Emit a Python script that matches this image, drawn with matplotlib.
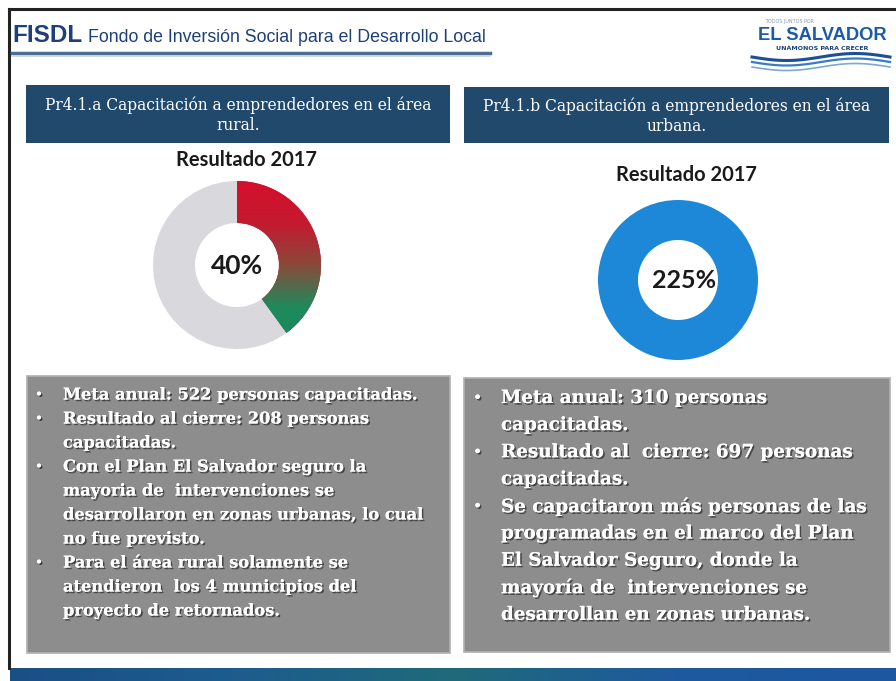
import numpy as np
import matplotlib
matplotlib.use("Agg")
import matplotlib.pyplot as plt
from matplotlib.patches import Rectangle
from matplotlib.colors import LinearSegmentedColormap
import matplotlib.patheffects as pe

# ---------------- data ----------------
panel_titles = ["Pr4.1.a Capacitación a emprendedores en el área\nrural.",
                "Pr4.1.b Capacitación a emprendedores en el área\nurbana."]
result_label = "Resultado 2017"
percent_values = [40, 225]
meta_anual = [522, 310]
resultado_cierre = [208, 697]

left_lines = [
    ("•", "Meta anual: 522 personas capacitadas."),
    ("•", "Resultado al cierre: 208 personas"),
    ("", "capacitadas."),
    ("•", "Con el Plan El Salvador seguro la"),
    ("", "mayoria de  intervenciones se"),
    ("", "desarrollaron en zonas urbanas, lo cual"),
    ("", "no fue previsto."),
    ("•", "Para el área rural solamente se"),
    ("", "atendieron  los 4 municipios del"),
    ("", "proyecto de retornados."),
]
right_lines = [
    ("•", "Meta anual: 310 personas"),
    ("", "capacitadas."),
    ("•", "Resultado al  cierre: 697 personas"),
    ("", "capacitadas."),
    ("•", "Se capacitaron más personas de las"),
    ("", "programadas en el marco del Plan"),
    ("", "El Salvador Seguro, donde la"),
    ("", "mayoría de  intervenciones se"),
    ("", "desarrollan en zonas urbanas."),
]

W, H = 896, 681
fig = plt.figure(figsize=(W / 100, H / 100), dpi=100)
fig.patch.set_facecolor("white")
bg = fig.add_axes([0, 0, 1, 1])
bg.set_xlim(0, W)
bg.set_ylim(H, 0)
bg.axis("off")

navy = "#1d3f7a"
hdr_blue = "#21496b"
box_gray = "#8d8d8d"

# slide border
bg.plot([9, W], [9, 9], color="#222222", lw=2.2)
bg.plot([9, 9], [9, 668], color="#222222", lw=2.2)

# header
bg.text(12, 36, "FISDL", fontsize=17.5, color=navy, fontweight="bold",
        family="Liberation Sans", va="center", ha="left")
bg.text(88, 38, "Fondo de Inversión Social para el Desarrollo Local", fontsize=12.8,
        color=navy, family="Liberation Sans", va="center", ha="left")
bg.plot([12, 490], [53, 53], color="#4a6f8f", lw=2.5)
bg.plot([12, 490], [56, 56], color="#c9d3dc", lw=1.2)

# logo
bg.text(790, 21, "TODOS JUNTOS POR", fontsize=3.5, color="#8899aa", ha="center", va="center")
bg.text(822, 35, "EL SALVADOR", fontsize=13.2, color="#1b5aa8", fontweight="bold",
        family="Liberation Sans", ha="center", va="center")
bg.text(822, 48, "UNÁMONOS PARA CRECER", fontsize=4.5, color="#1b3f7a", fontweight="bold",
        ha="center", va="center")
wx = np.linspace(752, 890, 60)
for off, lw, c in [(0, 2.2, "#1b4f9a"), (5, 1.6, "#3a7cc4"), (10, 1.2, "#7aa8d8")]:
    bg.plot(wx, 57 + off + 3.5 * np.sin((wx - 752) / 138 * 2 * np.pi), color=c, lw=lw)

# panel header boxes
hdr_boxes = [(26, 85, 424, 58), (464, 87, 425, 56)]
for (x, y, w, h), title in zip(hdr_boxes, panel_titles):
    bg.add_patch(Rectangle((x, y), w, h, facecolor=hdr_blue, edgecolor="none"))
    bg.text(x + w / 2, y + h / 2 + 1, title, fontsize=11.2, color="white",
            family="DejaVu Serif", ha="center", va="center", linespacing=1.25)

# "Resultado 2017"
for cx, cy in [(246, 160), (686, 175)]:
    bg.text(cx, cy, result_label, fontsize=14.5, fontweight="bold", color="#1a1a1a",
            family=["Lato", "DejaVu Sans"], ha="center", va="center")

# donuts
def add_donut_axes(cx, cy, r):
    ax = fig.add_axes([(cx - r) / W, (H - cy - r) / H, 2 * r / W, 2 * r / H])
    ax.set_aspect("equal")
    ax.axis("off")
    return ax

# left donut (40% with red-green gradient)
axL = add_donut_axes(237, 265, 84)
vL = percent_values[0]
wedges, _ = axL.pie([vL, 100 - vL], startangle=90, counterclock=False, radius=1,
                    colors=["#c8102e", "#d9d9dd"],
                    wedgeprops=dict(width=0.5, edgecolor="none"))
axL.set_xlim(-1, 1)
axL.set_ylim(-1, 1)
cmap = LinearSegmentedColormap.from_list("rg", ["#d4102c", "#c41a30", "#8a4a3a", "#1f8a5c", "#138a5e"])
grad = np.linspace(0, 1, 256).reshape(-1, 1)
im = axL.imshow(grad, cmap=cmap, extent=[-1, 1, -1, 1], origin="upper", aspect="auto", zorder=3)
im.set_clip_path(wedges[0])
bg.text(237, 266, f"{percent_values[0]}%", fontsize=19, fontweight="bold", color="#1a1a1a",
        family=["Lato", "DejaVu Sans"], ha="center", va="center", zorder=5)

# right donut (225% -> full ring)
axR = add_donut_axes(678, 280, 80)
vR = min(percent_values[1], 100)
axR.pie([vR], startangle=90, counterclock=False, radius=1, colors=["#1e88d8"],
        wedgeprops=dict(width=0.5, edgecolor="none"))
axR.set_xlim(-1, 1)
axR.set_ylim(-1, 1)
fig.text(684 / W, 1 - 281 / H, f"{percent_values[1]}%", fontsize=18, fontweight="bold",
         color="#1a1a1a", family=["Lato", "DejaVu Sans"], ha="center", va="center", zorder=10)

# gray text boxes
shadow = [pe.withSimplePatchShadow(offset=(1.2, -1.2), shadow_rgbFace="#333333", alpha=0.8), pe.Normal()]
boxes = [
    dict(rect=(27, 376, 423, 277), lines=left_lines, bx=35, tx=63, y0=395, dy=24, fs=11.7),
    dict(rect=(464, 378, 426, 274), lines=right_lines, bx=473, tx=501, y0=398, dy=27.1, fs=13.2),
]
for b in boxes:
    x, y, w, h = b["rect"]
    bg.add_patch(Rectangle((x, y), w, h, facecolor=box_gray, edgecolor="#b0b0b0", lw=1.2))
    for i, (bullet, line) in enumerate(b["lines"]):
        yy = b["y0"] + i * b["dy"]
        if bullet:
            bg.text(b["bx"], yy, bullet, fontsize=b["fs"] - 2, color="white",
                    family="DejaVu Serif", ha="left", va="center", path_effects=shadow)
        bg.text(b["tx"], yy, line, fontsize=b["fs"], color="white", fontweight="bold",
                family="DejaVu Serif", ha="left", va="center", path_effects=shadow)

# bottom band
band = np.linspace(0, 1, 256).reshape(1, -1)
band_cmap = LinearSegmentedColormap.from_list("band", ["#1a4f86", "#1d5c8e", "#1f6a7a", "#1e5a9e", "#1c57a0"])
bg.imshow(band, cmap=band_cmap, extent=[10, W, H, 668], aspect="auto", zorder=1)
bg.set_xlim(0, W)
bg.set_ylim(H, 0)

fig.savefig("out.png", dpi=100)
